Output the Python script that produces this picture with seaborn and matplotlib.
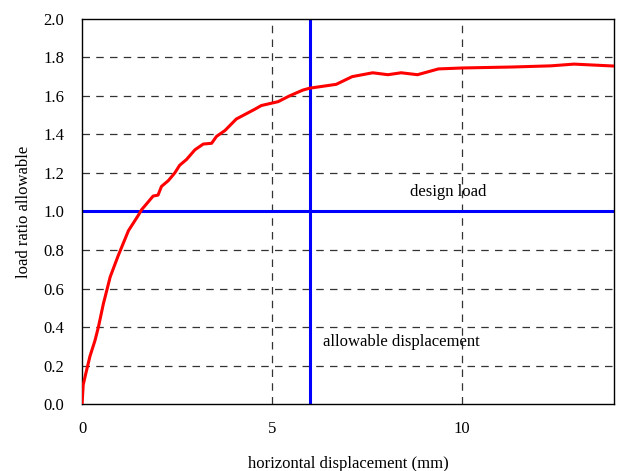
import pandas as pd
import matplotlib.pyplot as plt
import seaborn as sns

# load-displacement curve
disp = [0.0, 0.03, 0.1, 0.21, 0.34, 0.43, 0.56, 0.74, 0.95, 1.22, 1.48, 1.57, 1.70,
        1.87, 2.0, 2.09, 2.27, 2.44, 2.57, 2.75, 2.97, 3.19, 3.41, 3.54, 3.76, 4.06,
        4.54, 4.72, 5.16, 5.46, 5.81, 5.99, 6.34, 6.69, 7.11, 7.65, 8.05, 8.40, 8.83,
        9.38, 10.02, 11.33, 12.34, 12.95, 14.0]
load = [0.0, 0.10, 0.16, 0.25, 0.33, 0.40, 0.52, 0.66, 0.77, 0.90, 0.98, 1.01, 1.04,
        1.08, 1.085, 1.13, 1.16, 1.20, 1.24, 1.27, 1.32, 1.35, 1.354, 1.39, 1.42, 1.48,
        1.53, 1.55, 1.57, 1.60, 1.63, 1.64, 1.65, 1.66, 1.70, 1.72, 1.71, 1.72, 1.71,
        1.74, 1.745, 1.75, 1.756, 1.765, 1.755]

design_load = 1.0
allowable_disp = 6.0

x_ticks = [0, 5, 10]
y_ticks = [0.0, 0.2, 0.4, 0.6, 0.8, 1.0, 1.2, 1.4, 1.6, 1.8, 2.0]

df = pd.DataFrame({'disp': disp, 'load': load})

sns.set_style('white')
plt.rcParams['font.family'] = ['Liberation Serif', 'DejaVu Serif']
plt.rcParams['text.color'] = 'black'
plt.rcParams['axes.labelcolor'] = 'black'

fs = 12

fig, ax = plt.subplots(figsize=(6.17, 4.71), dpi=100)
fig.subplots_adjust(left=0.133, right=0.995, top=0.96, bottom=0.142)

# dashed grid
for yv in y_ticks[1:-1]:
    ax.axhline(yv, color='#333333', linestyle=(0, (6, 5)), linewidth=0.9, zorder=1)
for xv in [5, 10]:
    ax.axvline(xv, color='#333333', linestyle=(0, (6, 5)), linewidth=0.9, zorder=1)

sns.lineplot(data=df, x='disp', y='load', color='red', linewidth=2.2, ax=ax,
             sort=False, estimator=None, zorder=3)

ax.axhline(design_load, color='blue', linewidth=2.2, zorder=2)
ax.axvline(allowable_disp, color='blue', linewidth=2.2, zorder=2)

ax.text(9.64, 1.10, 'design load', fontsize=fs, ha='center', va='center')
ax.text(6.33, 0.32, 'allowable displacement', fontsize=fs, ha='left', va='center')

ax.set_xlim(0, 14)
ax.set_ylim(0, 2.0)
ax.set_xticks(x_ticks)
ax.set_yticks(y_ticks)
ax.set_yticklabels([f'{v:.1f}' for v in y_ticks])
ax.tick_params(axis='both', length=0, labelsize=fs, colors='black')
ax.tick_params(axis='x', pad=12)
ax.tick_params(axis='y', pad=13)

ax.set_xlabel('horizontal displacement (mm)', fontsize=fs, labelpad=14)
ax.set_ylabel('load ratio allowable', fontsize=fs, labelpad=8)

for s in ax.spines.values():
    s.set_color('black')
    s.set_linewidth(1.0)

plt.savefig('out.png', dpi=100)
